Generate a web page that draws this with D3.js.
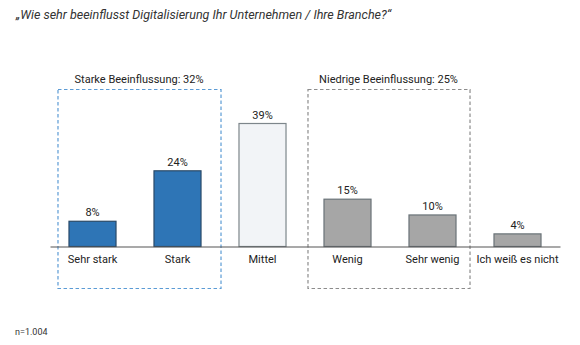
<!DOCTYPE html>
<html><head><meta charset="utf-8">
<script src="https://cdn.jsdelivr.net/npm/d3@7"></script>
<style>body{margin:0;background:#fff}svg{display:block}text{font-family:Roboto,"Liberation Sans",sans-serif}</style>
</head><body><svg id="c" width="580" height="345"></svg>
<script>
const categories = ["Sehr stark","Stark","Mittel","Wenig","Sehr wenig","Ich weiß es nicht"];
const values = [8,24,39,15,10,4];
const groupOf = ["strong","strong","mid","low","low","low"];
const groups = [
  {label:"Starke Beeinflussung: 32%", first:"Sehr stark", last:"Stark", kind:"strong"},
  {label:"Niedrige Beeinflussung: 25%", first:"Wenig", last:"Sehr wenig", kind:"low"}
];
const title = "„Wie sehr beeinflusst Digitalisierung Ihr Unternehmen / Ihre Branche?“";
const note = "n=1.004";

const fills = {strong:"#2e75b6", mid:"#f2f4f7", low:"#a6a6a6"};
const strokes = {strong:"#2a4a68", mid:"#7d868b", low:"#6a7378"};
const boxColor = {strong:"#5b9bd5", low:"#8c8c8c"};

const svg = d3.select("#c");
const x = d3.scaleBand().domain(categories).range([50,560]).paddingInner(0.435).paddingOuter(0.2175);
const y = d3.scaleLinear().domain([0,39]).range([246.5,123.5]);

svg.append("text").attr("x",16).attr("y",19).attr("font-size",12.5).attr("font-style","italic")
  .attr("fill","#333").text(title);

// dashed group boxes
const boxPad = {strong:[11,19], low:[16,13]};
groups.forEach(g=>{
  const x0 = x(g.first) - boxPad[g.kind][0];
  const x1 = x(g.last) + x.bandwidth() + boxPad[g.kind][1];
  svg.append("rect").attr("x",x0+0.5).attr("y",89.5).attr("width",x1-x0).attr("height",199)
    .attr("fill","none").attr("stroke",boxColor[g.kind]).attr("stroke-width",1.2)
    .attr("stroke-dasharray","3.5,2.5");
  svg.append("text").attr("x",(x0+x1)/2).attr("y",83).attr("text-anchor","middle")
    .attr("font-size",11).attr("fill","#222").text(g.label);
});

// bars
svg.selectAll("rect.bar").data(categories).enter().append("rect").attr("class","bar")
  .attr("x",d=>x(d)+0.5).attr("y",(d,i)=>y(values[i]))
  .attr("width",x.bandwidth()-1).attr("height",(d,i)=>y(0)-y(values[i]))
  .attr("fill",(d,i)=>fills[groupOf[i]]).attr("stroke",(d,i)=>strokes[groupOf[i]]).attr("stroke-width",1.2);

// value labels
svg.selectAll("text.val").data(categories).enter().append("text").attr("class","val")
  .attr("x",d=>x(d)+x.bandwidth()/2).attr("y",(d,i)=>y(values[i])-5)
  .attr("text-anchor","middle").attr("font-size",11).attr("fill","#222")
  .text((d,i)=>values[i]+"%");

// axis
const axis = d3.axisBottom(x).tickSize(0).tickPadding(9);
const ax = svg.append("g").attr("transform","translate(0,"+y(0)+")").call(axis);
ax.select(".domain").attr("stroke","#555").attr("stroke-width",1.2);
ax.selectAll(".tick text").attr("font-size",11).attr("fill","#222").attr("font-family","Roboto,'Liberation Sans',sans-serif");

svg.append("text").attr("x",15).attr("y",335).attr("font-size",9).attr("fill","#333").text(note);
</script></body></html>
